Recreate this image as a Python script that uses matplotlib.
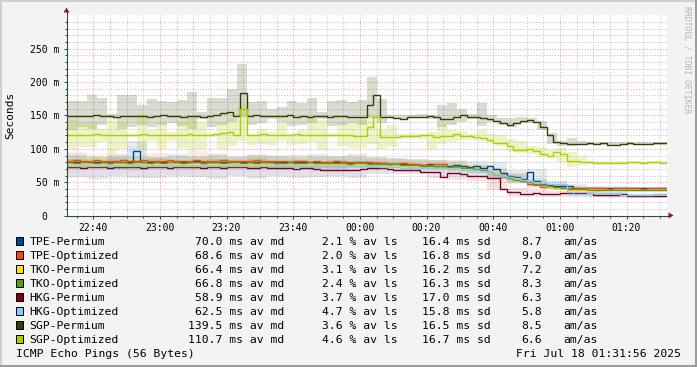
import numpy as np
import matplotlib
matplotlib.use("Agg")
import matplotlib.pyplot as plt
from matplotlib.patches import Rectangle, Polygon
from matplotlib.lines import Line2D
from matplotlib.transforms import IdentityTransform

# ------------------------------------------------------------------ data
# time axis: minutes after 22:00 (22:32 .. 01:32)
t_start = 32
t_end = 212
median_step = 2      # minutes per median sample
smoke_step_sgp = 3   # minutes per smoke sample (SGP targets)
smoke_step_low = 6   # minutes per smoke sample (other targets)

x_tick_minutes = [40, 60, 80, 100, 120, 140, 160, 180, 200]
x_tick_labels = ["22:40", "23:00", "23:20", "23:40", "00:00",
                 "00:20", "00:40", "01:00", "01:20"]
y_tick_values = [0, 50, 100, 150, 200, 250]
y_tick_labels = ["0  ", "50 m", "100 m", "150 m", "200 m", "250 m"]

names = ["TPE-Permium", "TPE-Optimized", "TKO-Permium", "TKO-Optimized",
         "HKG-Permium", "HKG-Optimized", "SGP-Permium", "SGP-Optimized"]
colors = ["#004586", "#ff420e", "#ffde20", "#579d1c",
          "#7e0021", "#83caff", "#314004", "#aecf00"]
avg_median = ["70.0", "68.6", "66.4", "66.8", "58.9", "62.5", "139.5", "110.7"]
avg_loss = ["2.1", "2.0", "3.1", "2.4", "3.7", "4.7", "3.6", "4.6"]
std_dev = ["16.4", "16.8", "16.2", "16.3", "17.0", "15.8", "16.5", "16.7"]
am_as = ["8.7", "9.0", "7.2", "8.3", "6.3", "5.8", "8.5", "6.6"]

# median RTT (ms), one value per 2 minutes
tpe_perm = [80, 80, 81, 80, 80, 81, 80, 80, 81, 80,
            97,
            81, 80, 81, 81, 80, 80, 81, 81, 82, 81, 81, 80, 81, 81,
            81, 81, 80, 80, 81, 81, 80, 80, 81, 80, 80, 81, 80, 80, 79, 80, 80, 79, 80,
            80, 79, 79, 78, 78, 77, 77, 78, 76, 76, 77, 75,
            74, 75, 76, 74, 73, 74, 72,
            74, 70, 64, 60, 58, 55,
            66,
            52, 47, 46, 45, 44, 44, 42, 42, 41,
            41, 41, 41, 42, 41, 41, 42, 41, 41, 41, 42]
tpe_opt = [82, 83, 82, 82, 83, 82, 82, 82, 83, 82,
           82, 83, 82, 82, 82, 83, 82, 82, 82, 83,
           82, 82, 82, 83, 82, 82, 82, 82, 83, 82,
           82, 82, 82, 81, 82, 82, 81, 82, 81, 81,
           82, 81, 81, 80,
           80, 80, 79, 79, 78, 78, 79, 77, 77, 76, 76, 77,
           78, 73, 73, 71, 70, 70, 68, 65, 63,
           58, 56, 57, 52, 48, 46, 43, 43, 42, 42,
           41, 41, 41, 41, 41, 41, 40, 41, 41, 41, 41, 40, 41, 41, 41]
tko_perm = [78, 78, 79, 78, 78, 78, 79, 78, 78, 78,
            79, 78, 78, 78, 78, 79, 78, 78, 78, 78,
            79, 78, 78, 78, 78, 79, 78, 78, 78, 78,
            78, 79, 78, 78, 78, 77, 78, 78, 77, 77,
            78, 77, 77, 77,
            77, 77, 76, 76, 75, 76, 75, 75, 74, 74, 73, 74,
            72, 72, 72, 70, 70, 69, 68, 66, 64,
            60, 58, 55, 53, 50, 48, 46, 43, 42, 40,
            39, 38, 38, 38, 37, 38, 38, 38, 38, 38, 38, 38, 38, 38, 38]
tko_opt = [80, 79, 80, 80, 79, 80, 79, 80, 80, 79,
           80, 80, 79, 80, 79, 80, 80, 79, 80, 80,
           79, 80, 80, 79, 80, 80, 79, 80, 79, 80,
           80, 79, 79, 80, 79, 79, 80, 79, 79, 79,
           79, 79, 78, 79,
           79, 78, 78, 78, 77, 77, 76, 76, 76, 75, 75, 75,
           74, 73, 74, 72, 71, 70, 69, 66, 63,
           60, 57, 54, 52, 50, 48, 46, 44, 43, 42,
           40, 40, 40, 39, 39, 39, 39, 39, 39, 39, 39, 39, 39, 39, 39]
hkg_perm = [73, 73, 72, 73, 73, 73, 72, 73, 73, 73,
            73, 72, 73, 73, 73, 72, 73, 73, 73, 73,
            72, 73, 73, 72, 73, 73, 73, 72, 72, 73,
            71, 71, 71, 71, 70, 71, 71, 70,
            69, 69, 69, 68, 69, 69,
            70.5, 72, 72, 71, 70,
            68, 68, 68, 68,
            65, 65, 65,
            58,
            64, 64,
            63,
            59, 59, 59,
            56, 56,
            40,
            35.5, 35.5,
            32, 32,
            34,
            32.5, 32.5, 32.5,
            34, 34, 34, 34, 34,
            30.5, 30.5, 30.5, 30.5,
            32,
            29.5, 29.5, 29.5, 29.5, 29.5, 29.5]
hkg_opt = [75, 74, 75, 75, 74, 75, 74, 75, 74, 75,
           75, 74, 74, 75, 74, 75, 75, 74, 74, 75,
           74, 75, 74, 74, 75, 74, 74, 75, 74, 74,
           75, 74, 74, 74, 75, 74, 74, 74, 75, 74,
           74, 74, 75, 74,
           74, 74, 74, 73, 73, 73, 72, 72, 71, 71, 72, 71,
           72, 70, 71, 69, 68, 69, 67, 65, 62,
           60, 58, 56, 54, 52, 50, 49, 48, 48, 47,
           36, 33, 33, 34, 34, 34, 34, 34, 31, 31, 31, 31, 31, 32, 32]
sgp_perm = [149, 149, 148.5, 149, 150, 149, 148.5, 148, 149, 149, 148.5, 149, 148, 149,
            150.5, 149, 149, 148, 149, 149, 148, 149,
            151, 153, 155, 148.6, 183, 148.5,
            150, 148.5, 148.5, 149, 148.5, 151, 148, 148.5, 147, 148.5, 148.5, 148,
            148.5, 148.5, 148, 148,
            148, 166, 180,
            148, 148, 146, 145, 147, 147, 148, 149, 147, 144,
            145, 148, 150, 148, 147, 146, 144, 141, 139, 135,
            139, 142, 143, 140, 133, 120, 110,
            109, 107, 107.5, 107.5, 109, 108, 109, 106.5, 106.5, 108, 109, 108,
            108, 108, 109.5, 109.5]
sgp_opt = [121, 121, 120.5, 121, 122, 121, 121, 121, 121, 120.5, 121,
           122, 121, 120.5, 121, 121, 120.5, 121, 122, 121, 120.5, 120.5,
           122, 123.5, 125, 120.5, 160, 121,
           121, 121.5, 121, 120.5, 121, 121, 121.5, 121, 120.5, 120.3, 120.3, 121,
           120.3, 120.3, 120.3,
           118.8, 118.8, 133, 148,
           118, 118, 118, 118.5, 118.5, 118.5, 120, 120, 118, 119, 119,
           121.8, 118.5, 118.8, 117, 116, 113, 109, 108.8, 104, 98, 98, 100, 97, 93, 90, 95,
           92, 82, 82, 80, 80, 79.5, 79, 79, 79, 79, 80, 80, 79, 80, 80.5, 79.5]

# smoke (spread of the pings) low / high, ms
tpe_perm_lo = [70, 72, 70, 68, 72, 71, 70, 72, 71, 70, 72, 71, 70, 72, 71,
               72, 73, 72, 70, 68, 66, 60, 50, 44, 42, 40, 40, 40, 40, 40]
tpe_perm_hi = [92, 88, 90, 112, 87, 90, 89, 93, 88, 91, 90, 88, 92, 89, 90,
               88, 86, 85, 84, 83, 82, 80, 68, 70, 52, 47, 44, 44, 43, 43]
tpe_opt_lo = [72, 74, 70, 73, 72, 74, 70, 72, 73, 71, 72, 73, 72, 70, 73,
              74, 74, 72, 70, 68, 64, 55, 48, 40, 40, 39, 39, 39, 39, 39]
tpe_opt_hi = [95, 90, 92, 88, 94, 90, 97, 92, 90, 93, 88, 91, 90, 88, 92,
              88, 86, 85, 84, 82, 78, 72, 64, 55, 47, 45, 43, 43, 43, 42]
tko_perm_lo = [66, 68, 70, 65, 68, 70, 66, 68, 69, 67, 70, 68, 68, 70, 69,
               70, 71, 70, 68, 66, 64, 56, 50, 44, 38, 36, 36, 36, 36, 36]
tko_perm_hi = [88, 92, 86, 90, 88, 85, 90, 87, 86, 89, 85, 88, 87, 86, 88,
               85, 84, 83, 82, 80, 76, 70, 62, 54, 46, 42, 40, 40, 40, 40]
tko_opt_lo = [70, 71, 68, 72, 70, 69, 71, 70, 72, 70, 69, 71, 72, 70, 71,
              72, 72, 71, 69, 67, 64, 56, 49, 44, 40, 38, 37, 37, 37, 37]
tko_opt_hi = [90, 88, 93, 89, 86, 92, 88, 90, 87, 89, 91, 86, 88, 90, 87,
              86, 85, 84, 83, 81, 76, 70, 62, 54, 47, 43, 41, 41, 41, 41]
hkg_perm_lo = [58, 55, 60, 57, 56, 60, 58, 55, 59, 57, 60, 56, 58, 60, 57,
               62, 63, 62, 56, 54, 52, 38, 30, 29, 30, 30, 28, 27, 27, 27]
hkg_perm_hi = [85, 82, 86, 83, 88, 84, 82, 85, 83, 86, 82, 84, 80, 83, 80,
               82, 80, 78, 75, 72, 66, 62, 42, 38, 37, 37, 36, 35, 33, 32]
hkg_opt_lo = [56, 60, 55, 58, 60, 56, 58, 57, 60, 55, 58, 60, 59, 56, 60,
              64, 66, 64, 62, 60, 58, 54, 50, 44, 40, 30, 29, 29, 29, 29]
hkg_opt_hi = [88, 85, 90, 105, 86, 92, 88, 86, 90, 87, 89, 91, 86, 88, 92,
              85, 83, 82, 80, 78, 74, 70, 62, 56, 52, 40, 37, 36, 34, 34]
sgp_perm_lo = [128, 132, 130, 135, 146, 130, 132, 136, 133, 135,
               138, 134, 130, 145, 133, 136, 140, 148, 135, 138,
               144, 140, 134, 136, 138, 145, 134, 136, 138, 135,
               146, 138, 146, 145, 146, 146, 145, 133, 135, 140,
               144, 134, 140, 136, 133, 138, 138, 128, 107, 105,
               105, 106, 106, 106, 106, 106, 106, 106, 106, 106]
sgp_perm_hi = [172, 171, 180, 176, 152, 180, 180, 165, 174, 172,
               170, 173, 185, 155, 176, 176, 189, 227, 170, 172,
               160, 162, 172, 169, 176, 155, 171, 173, 170, 173,
               207, 175, 151, 150, 151, 152, 151, 165, 168, 160,
               152, 168, 150, 146, 146, 147, 146, 142, 124, 112,
               116, 112, 111, 110, 111, 110, 110, 111, 111, 111]
sgp_opt_lo = [100, 103, 103, 110, 92, 100, 118, 100, 112, 100,
              112, 102, 98, 100, 118, 100, 105, 112, 106, 108,
              106, 112, 106, 108, 110, 98, 118, 105, 102, 102,
              108, 100, 103, 115, 116, 115, 100, 108, 110, 113,
              114, 112, 110, 104, 96, 94, 93, 88, 86, 80,
              73, 76, 77, 77, 77, 77, 77, 77, 77, 77]
sgp_opt_hi = [143, 138, 140, 130, 146, 140, 124, 152, 128, 140,
              125, 140, 148, 140, 124, 138, 145, 165, 122, 130,
              125, 140, 122, 128, 145, 143, 124, 138, 140, 143,
              150, 128, 135, 122, 124, 122, 125, 137, 128, 126,
              122, 128, 122, 120, 115, 112, 105, 103, 98, 102,
              95, 90, 82, 82, 82, 82, 82, 82, 82, 82]

medians = [tpe_perm, tpe_opt, tko_perm, tko_opt, hkg_perm, hkg_opt, sgp_perm, sgp_opt]
smoke_lo = [tpe_perm_lo, tpe_opt_lo, tko_perm_lo, tko_opt_lo, hkg_perm_lo, hkg_opt_lo,
            sgp_perm_lo, sgp_opt_lo]
smoke_hi = [tpe_perm_hi, tpe_opt_hi, tko_perm_hi, tko_opt_hi, hkg_perm_hi, hkg_opt_hi,
            sgp_perm_hi, sgp_opt_hi]
smoke_steps = [smoke_step_low] * 6 + [smoke_step_sgp] * 2
smoke_alpha = [0.10, 0.10, 0.12, 0.10, 0.10, 0.13, 0.18, 0.22]

# ------------------------------------------------------------------ figure
W, H = 697, 367
MONO = "DejaVu Sans Mono"
plt.rcParams["font.family"] = [MONO]
fig = plt.figure(figsize=(W / 100, H / 100), dpi=100)
fig.patch.set_facecolor("#f3f3f3")

PL, PR, PT, PB = 66.5, 666.5, 15.5, 215.5
ax = fig.add_axes([PL / W, (H - PB) / H, (PR - PL) / W, (PB - PT) / H])
ax.set_facecolor("white")
ax.set_xlim(t_start, t_end)
ax.set_ylim(0, 300)
for s in ax.spines.values():
    s.set_visible(False)

# grid
minor_x = [m for m in range(35, t_end, 5) if m not in x_tick_minutes]
minor_y = [v for v in range(10, 300, 10) if v % 50 != 0]
for m in minor_x:
    ax.axvline(m, color="#c4c4c4", lw=0.75, ls=(0, (1, 1.6)), zorder=0.5)
for v in minor_y:
    ax.axhline(v, color="#c4c4c4", lw=0.75, ls=(0, (1, 1.6)), zorder=0.5)
for m in x_tick_minutes:
    ax.axvline(m, color="#f2a0a0", lw=0.75, ls=(0, (1, 1.6)), zorder=0.6)
for v in y_tick_values[1:]:
    ax.axhline(v, color="#f2a0a0", lw=0.75, ls=(0, (1, 1.6)), zorder=0.6)

# smoke
for i in range(len(names)):
    st = smoke_steps[i]
    edges = t_start + st * np.arange(len(smoke_hi[i]) + 1)
    ax.stairs(smoke_hi[i], edges, baseline=smoke_lo[i], fill=True,
              color=colors[i], alpha=smoke_alpha[i], lw=0, zorder=1)

# medians
for i in range(len(names)):
    edges = t_start + median_step * np.arange(len(medians[i]) + 1)
    ax.stairs(medians[i], edges, baseline=None, color=colors[i], lw=1.0, zorder=3)

# ticks
ax.set_xticks(x_tick_minutes)
ax.set_xticklabels(x_tick_labels)
ax.set_xticks(minor_x, minor=True)
ax.set_yticks(y_tick_values)
ax.set_yticklabels(y_tick_labels)
ax.set_yticks(minor_y, minor=True)
axis_col = "#2c4d43"
ax.tick_params(which="major", length=2.2, width=0.75, color=axis_col,
               labelsize=7, pad=2.6)
ax.tick_params(which="minor", length=1.4, width=0.75, color=axis_col)
ax.tick_params(axis="x", which="major", pad=3.0)
for lab in ax.get_xticklabels() + ax.get_yticklabels():
    lab.set_fontfamily(MONO)

# axis lines and arrows (pixel coordinates)
ident = IdentityTransform()
def P(x, y):
    return (x, H - y)
fig.add_artist(Line2D([PL, PL], [H - PB, H - 11], transform=ident, color=axis_col, lw=0.8))
fig.add_artist(Line2D([PL, 669], [H - PB, H - PB], transform=ident, color=axis_col, lw=0.8))
fig.add_artist(Polygon([P(PL - 3, 12.5), P(PL + 3, 12.5), P(PL, 7.5)], closed=True,
                       transform=ident, color="#9b1010", lw=0))
fig.add_artist(Polygon([P(668.5, PB - 3), P(668.5, PB + 3), P(673.5, PB)], closed=True,
                       transform=ident, color="#9b1010", lw=0))

# border shading
fig.add_artist(Rectangle((0, H - 2), W, 2, transform=ident, color="#d0d0d0", lw=0))
fig.add_artist(Rectangle((0, 0), 2, H, transform=ident, color="#d0d0d0", lw=0))
fig.add_artist(Rectangle((W - 2, 0), 2, H, transform=ident, color="#9c9c9c", lw=0))
fig.add_artist(Rectangle((0, 0), W, 2, transform=ident, color="#9c9c9c", lw=0))

def ftext(x, y, s, **kw):
    fig.text(x / W, 1 - y / H, s, family=MONO, **kw)

# y label & watermark
ftext(10.5, 115, "Seconds", fontsize=8, rotation=90, ha="center", va="center")
ftext(687, 60, "RRDTOOL / TOBI OETIKER", fontsize=5.8, rotation=270,
      ha="center", va="center", color="#b2b2b2")

# legend
fs = 8.2
for i, nm in enumerate(names):
    yb = 245 + 14 * i
    fig.add_artist(Rectangle((15.5, H - yb), 7, 8, transform=ident,
                             facecolor=colors[i], edgecolor="black", lw=0.7))
    ftext(29.5, yb, nm, fontsize=fs, va="baseline", ha="left")
    ftext(284, yb, f"{avg_median[i]} ms av md", fontsize=fs, va="baseline", ha="right")
    ftext(397.5, yb, f"{avg_loss[i]} % av ls", fontsize=fs, va="baseline", ha="right")
    ftext(491, yb, f"{std_dev[i]} ms sd", fontsize=fs, va="baseline", ha="right")
    ftext(521, yb, am_as[i], fontsize=fs, va="baseline", ha="left")
    ftext(563.5, yb, "am/as", fontsize=fs, va="baseline", ha="left")

ftext(16.5, 357, "ICMP Echo Pings (56 Bytes)", fontsize=fs, va="baseline", ha="left")
ftext(681, 357, "Fri Jul 18 01:31:56 2025", fontsize=fs, va="baseline", ha="right")

fig.savefig("out.png", dpi=100, facecolor=fig.get_facecolor())
